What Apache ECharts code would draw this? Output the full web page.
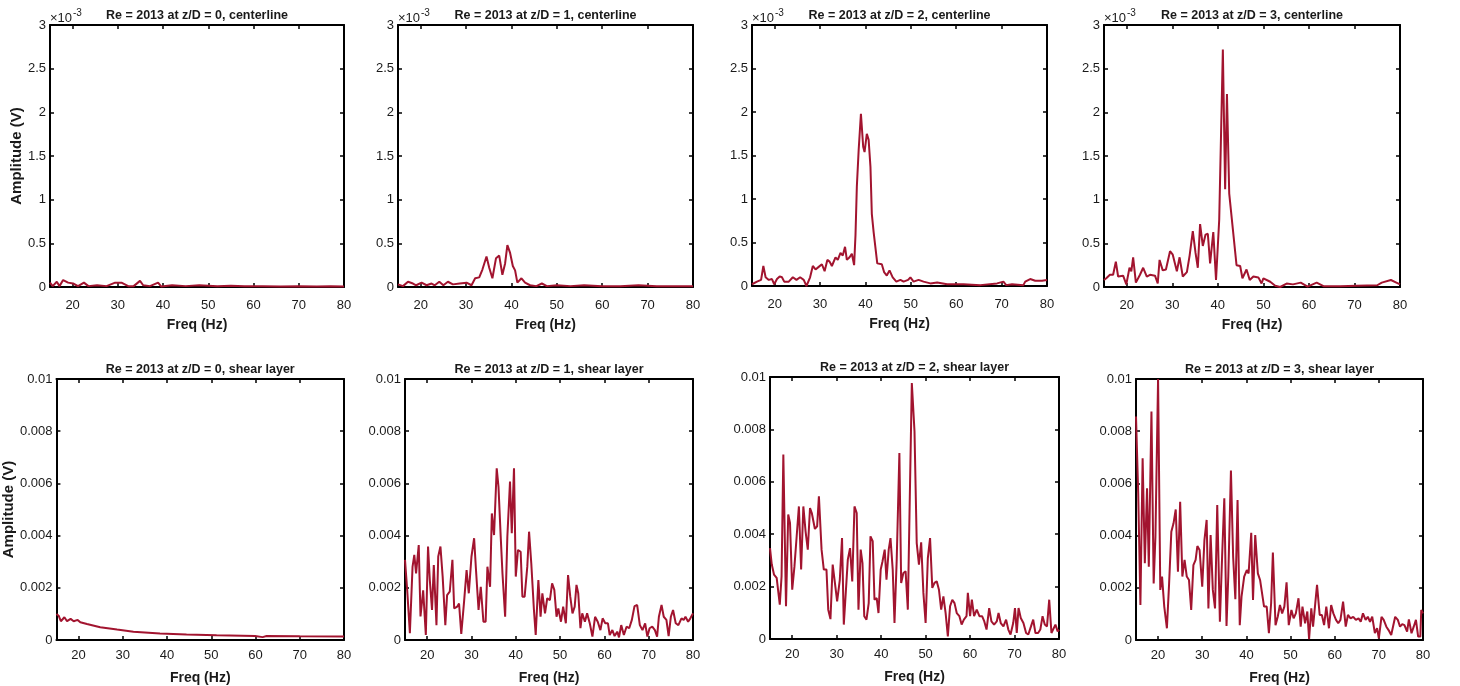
<!DOCTYPE html>
<html>
<head>
<meta charset="utf-8">
<script src="https://cdn.jsdelivr.net/npm/echarts@6/dist/echarts.min.js"></script>
<style>
  html, body { margin: 0; padding: 0; background: #fff; }
  #chart { width: 1460px; height: 686px; }
</style>
</head>
<body>
<div id="chart"></div>
<script>
// x ticks shared by every panel
var freqTicks = [20, 30, 40, 50, 60, 70, 80];
var topTicks = [0, 0.5, 1, 1.5, 2, 2.5, 3];      // x 1e-3 V
var bottomTicks = [0, 2, 4, 6, 8, 10];           // x 1e-3 V, shown in V

var titles = [
    'Re = 2013 at z/D = 0, centerline',
    'Re = 2013 at z/D = 1, centerline',
    'Re = 2013 at z/D = 2, centerline',
    'Re = 2013 at z/D = 3, centerline',
    'Re = 2013 at z/D = 0, shear layer',
    'Re = 2013 at z/D = 1, shear layer',
    'Re = 2013 at z/D = 2, shear layer',
    'Re = 2013 at z/D = 3, shear layer'
];

// [freq Hz, amplitude in 1e-3 V]
var clZ0 = [[15,0.05],[15.6,0.01],[16.5,0.06],[17.1,0.01],[17.9,0.08],[19,0.05],[20.1,0.04],[21.2,0.01],[22.5,0.05],[23.5,0.01],[25.4,0.02],[27.5,0.01],[29.4,0.05],[30.8,0.05],[32.3,0.01],[33.5,0.01],[34.9,0.07],[35.6,0.02],[37.1,0.01],[38.9,0.05],[39.6,0.005],[42,0.02],[45,0.01],[48,0.02],[52,0.01],[55,0.015],[58,0.01],[62,0.01],[66,0.005],[70,0.01],[74,0.005],[77,0.01],[80,0.005]];

var clZ1 = [[15,0.03],[16.1,0.01],[17.2,0.06],[18.3,0.04],[19,0.02],[20.2,0.05],[21.3,0.02],[22.4,0.04],[23.1,0.02],[24.1,0.06],[25,0.02],[26,0.06],[27.1,0.03],[28.6,0.04],[30.1,0.05],[31.2,0.02],[32,0.1],[32.9,0.11],[33.6,0.2],[34.5,0.35],[35.1,0.22],[35.8,0.1],[36.6,0.33],[37.3,0.36],[38,0.14],[38.6,0.27],[39.1,0.48],[39.7,0.39],[40.3,0.24],[40.8,0.19],[41.3,0.05],[42.2,0.1],[43,0.05],[44.1,0.02],[45.5,0.01],[46.7,0.04],[47.8,0.01],[50,0.02],[53,0.01],[56,0.02],[60,0.01],[64,0.01],[68,0.02],[72,0.01],[76,0.01],[80,0.01]];

var clZ2 = [[15,0.02],[16.1,0.05],[17,0.07],[17.5,0.23],[18,0.1],[18.7,0.07],[19.4,0.08],[19.9,0.02],[20.5,0.08],[21.1,0.11],[21.6,0.1],[22.1,0.05],[23.1,0.05],[24,0.1],[24.8,0.07],[25.6,0.1],[26.4,0.07],[27,0],[27.8,0.1],[28.4,0.23],[29,0.19],[29.7,0.22],[30.4,0.25],[31,0.17],[31.6,0.3],[32.1,0.28],[32.6,0.23],[33.4,0.33],[33.9,0.3],[34.5,0.38],[35,0.35],[35.5,0.45],[35.9,0.3],[36.5,0.33],[37,0.37],[37.5,0.24],[37.8,0.58],[38.1,1.14],[38.5,1.56],[39,1.98],[39.5,1.6],[39.8,1.54],[40.3,1.75],[40.7,1.68],[41.1,1.37],[41.4,0.83],[41.8,0.62],[42.2,0.6],[42.6,0.26],[43,0.24],[43.6,0.25],[44.1,0.16],[44.7,0.12],[45.3,0.18],[46,0.1],[46.8,0.05],[47.7,0.07],[48.4,0.05],[49.4,0.07],[49.9,0.1],[50.6,0.05],[51.7,0.07],[52.8,0.05],[54.3,0.03],[55.8,0.04],[58,0.02],[61.6,0.02],[65.3,0.01],[69,0.03],[70.4,0.05],[71,0.01],[72.3,0.02],[74.8,0.01],[75.2,0.05],[76.3,0.08],[77.4,0.06],[78.9,0.06],[80,0.07]];

var clZ3 = [[15,0.08],[15.5,0.1],[16.3,0.14],[17,0.14],[17.6,0.29],[18.1,0.12],[19.2,0.13],[19.9,0.03],[20.6,0.22],[21,0.18],[21.4,0.34],[22,0.05],[22.9,0.14],[23.6,0.22],[24.4,0.12],[25.1,0.14],[26.2,0.13],[26.8,0.04],[27.2,0.31],[27.9,0.19],[28.6,0.2],[29.5,0.41],[30.1,0.37],[31,0.18],[31.6,0.34],[32.3,0.12],[33.2,0.17],[33.8,0.36],[34.5,0.64],[35.1,0.39],[35.6,0.22],[36.1,0.72],[36.7,0.47],[37.3,0.6],[37.8,0.61],[38.3,0.27],[39,0.63],[39.6,0.08],[40.3,0.77],[41.1,2.72],[41.6,1.12],[42,2.21],[42.5,1.07],[43.3,0.66],[44.1,0.25],[44.9,0.24],[45.4,0.1],[46.3,0.2],[47,0.08],[47.8,0.12],[48.9,0.11],[49.6,0.04],[50,0.1],[51.5,0.06],[52.6,0.015],[53.7,0],[55.1,0.04],[56.5,0.03],[58.2,0.05],[59.7,0.005],[61.7,0.05],[63.2,0.01],[66.9,0.01],[70.5,0.015],[75,0.02],[76,0.05],[78,0.08],[79.2,0.05],[79.6,0.06],[80,0.03]];

var slZ0 = [[15,1.0],[15.5,0.93],[16,0.72],[16.8,0.87],[17.4,0.72],[18.2,0.81],[18.9,0.72],[19.8,0.77],[20.4,0.68],[21.9,0.61],[24.9,0.49],[28.7,0.4],[32.4,0.32],[38.4,0.25],[44.4,0.21],[51.2,0.18],[59.9,0.15],[61.6,0.11],[62.5,0.15],[70,0.14],[80,0.13]];

var slZ1 = [[15,3.07],[15.5,1.9],[16.1,0.26],[16.7,2.8],[17.1,3.26],[17.5,2.55],[18.1,3.64],[18.5,0.9],[19.1,1.9],[19.7,0.19],[20.2,3.58],[20.6,2.3],[21.1,1.15],[21.5,2.87],[22.1,0.57],[22.5,3.2],[23,3.58],[23.5,2.43],[24.1,0.57],[24.5,1.72],[25.1,1.85],[25.7,3.07],[26.1,1.21],[26.8,1.28],[27.2,1.4],[27.7,0.23],[28.3,1.4],[28.9,2.68],[29.4,1.79],[30,3.19],[30.6,3.9],[31,2.75],[31.6,1.15],[32.1,2.04],[32.7,0.7],[33.2,0.7],[33.6,2.81],[34.2,2.04],[34.6,4.85],[35.1,4.02],[35.7,6.58],[36.1,5.87],[36.6,3.96],[37,2.55],[37.6,0.89],[38.1,3.96],[38.7,6.07],[39.1,4.09],[39.6,6.58],[40,2.43],[40.5,3.45],[41.1,3.38],[41.5,1.66],[42,1.66],[42.6,2.81],[43,4.15],[43.5,2.94],[44.1,1.15],[44.5,0.19],[45.1,2.3],[45.6,0.89],[46,1.79],[46.6,1.02],[47.1,1.6],[47.7,1.53],[48.2,2.17],[48.7,1.92],[49.2,0.89],[49.6,1.21],[50.2,0.7],[50.7,1.28],[51.3,0.64],[51.8,2.49],[52.3,1.66],[52.8,1.02],[53.3,1.28],[53.7,2.11],[54.1,1.79],[54.6,0.45],[55,1.02],[55.6,0.7],[56.1,1.02],[56.7,0.64],[57.3,0.13],[57.9,0.89],[58.5,0.7],[59.1,0.38],[59.6,0.83],[60.2,0.64],[60.8,0.64],[61.2,0.19],[61.8,0.38],[62.3,0.15],[62.9,0.32],[63.3,0.1],[63.8,0.57],[64.4,0.19],[65,0.51],[65.6,0.45],[66.2,0.77],[66.8,1.3],[67.4,1.34],[68,0.57],[68.6,0.38],[69.2,0.64],[69.7,0.13],[70.2,0.45],[70.8,0.51],[71.4,0.38],[71.9,0.13],[72.3,0.89],[72.9,1.34],[73.4,0.89],[74,0.77],[74.5,0.15],[75,0.89],[75.5,1.15],[76.1,0.64],[76.7,0.57],[77.4,0.83],[77.9,0.77],[78.3,0.89],[78.9,0.7],[79.4,0.83],[80,1.02]];

var slZ2 = [[15,3.47],[15.4,2.84],[15.9,2.46],[16.5,2.33],[16.9,2.26],[17.2,1.31],[17.6,2.39],[18,7.04],[18.6,1.25],[19.1,4.75],[19.5,4.43],[20,1.88],[20.5,2.77],[21,3.92],[21.5,5.06],[22,2.65],[22.5,5.06],[23,4.11],[23.5,3.41],[24,5.0],[24.4,4.81],[25.1,4.2],[25.6,4.3],[26,5.45],[26.6,3.41],[27.1,2.65],[27.7,2.65],[28.1,1.12],[28.6,0.76],[29.1,2.84],[29.6,2.14],[30.1,1.44],[30.7,2.26],[31.2,3.85],[31.6,0.55],[32,0.61],[32.5,3.03],[33,3.47],[33.5,2.2],[34,5.06],[34.5,4.81],[34.9,1.12],[35.4,3.41],[35.8,2.9],[36.2,0.87],[36.7,0.74],[37.2,1.37],[37.6,3.92],[38.1,3.73],[38.5,1.5],[39,1.56],[39.4,0.99],[39.9,2.65],[40.3,2.96],[40.8,3.41],[41.2,2.26],[41.7,3.41],[42.1,3.85],[42.6,2.65],[43,0.61],[43.5,3.03],[44.1,7.1],[44.5,2.14],[45,2.52],[45.5,2.58],[46,1.12],[46.5,5.95],[46.9,9.77],[47.5,7.93],[48,3.66],[48.5,2.84],[49,3.69],[49.5,1.76],[50,0.61],[50.5,3.09],[51,3.85],[51.5,1.95],[52,2.14],[52.5,2.2],[53,1.88],[53.5,1.12],[54,1.63],[54.5,0.99],[55,0.1],[55.5,1.25],[56,1.5],[56.5,1.37],[57,0.99],[57.6,0.87],[58.1,0.55],[58.6,0.74],[59.2,0.87],[59.5,1.76],[60,0.87],[60.4,1.5],[60.9,0.87],[61.5,1.12],[62.1,0.87],[62.7,0.87],[63.2,0.67],[63.7,0.36],[64.3,1.18],[64.8,0.67],[65.4,0.55],[66,0.67],[66.4,0.99],[66.9,0.61],[67.5,0.48],[68.1,0.74],[68.6,0.36],[69.1,0.17],[69.7,0.61],[70.1,1.18],[70.5,0.23],[70.9,1.18],[71.4,0.8],[72,0.61],[72.6,0.23],[73.1,0.17],[73.7,0.48],[74.2,0.74],[74.7,0.23],[75.3,0.23],[75.8,0.36],[76.3,0.87],[76.8,0.55],[77.3,0.48],[77.8,1.5],[78.3,0.23],[78.7,0.17],[79.2,0.55],[79.7,0.29],[80,0.36]];

var slZ3 = [[15,8.56],[15.5,5.62],[16,1.34],[16.5,6.96],[17,2.94],[17.5,5.81],[17.9,2.81],[18.5,8.75],[19,2.17],[19.4,3.96],[20,10],[20.5,1.92],[20.9,2.43],[21.4,1.28],[22,0.45],[22.5,2.17],[23,4.15],[23.5,4.47],[24,5.0],[24.5,2.62],[25,5.3],[25.5,2.43],[26,3.07],[26.5,2.43],[27,2.3],[27.5,1.15],[28,2.87],[28.5,3.07],[28.9,3.6],[29.4,3.45],[30,2.04],[30.5,3.83],[31,4.6],[31.4,1.21],[31.9,4.02],[32.4,1.92],[32.9,1.21],[33.4,5.17],[34,0.7],[34.5,3.19],[35,5.43],[35.5,0.54],[35.9,2.43],[36.5,6.49],[37,3.19],[37.5,1.56],[38,5.36],[38.5,0.57],[38.9,1.66],[39.5,2.43],[40.1,2.68],[40.5,2.55],[41.1,4.11],[41.5,1.53],[42,4.02],[42.6,2.55],[43.1,2.3],[43.5,2.36],[44,1.28],[44.6,1.28],[45.1,0.26],[45.6,1.4],[46,3.35],[46.6,0.57],[47.1,0.89],[47.6,1.34],[48.1,1.02],[48.6,1.28],[49.1,2.21],[49.6,0.57],[50.2,1.15],[50.7,0.83],[51.2,1.02],[51.8,1.6],[52.3,0.51],[52.7,1.28],[53.3,0.64],[53.8,1.09],[54.2,0.03],[54.7,1.21],[55.1,0.51],[55.6,1.4],[56,2.11],[56.6,0.96],[57.1,0.96],[57.6,0.57],[58.1,1.28],[58.7,0.45],[59.2,1.34],[59.7,1.02],[60.3,0.77],[60.8,0.64],[61.3,0.77],[61.9,1.47],[62.5,0.51],[63,0.96],[63.6,0.83],[64.2,0.89],[64.8,0.77],[65.4,0.83],[65.9,0.7],[66.4,1.02],[67,0.77],[67.5,0.89],[68,0.7],[68.5,0.89],[69.1,0.26],[69.6,0.45],[70,0.06],[70.6,0.89],[71.1,0.77],[71.7,0.51],[72.2,0.38],[72.8,0.19],[73.2,0.26],[73.7,0.89],[74.3,0.77],[74.8,0.51],[75.3,0.61],[75.8,0.57],[76.4,0.32],[76.8,0.79],[77.4,0.26],[77.9,0.51],[78.4,0.77],[78.9,0.13],[79.4,0.13],[79.6,1.15],[80,1.02]];

var panelData = [clZ0, clZ1, clZ2, clZ3, slZ0, slZ1, slZ2, slZ3];

var boxes = [
    {left: 50,   top: 25,  width: 294, height: 262},
    {left: 398,  top: 25,  width: 295, height: 262},
    {left: 752,  top: 25,  width: 295, height: 261},
    {left: 1104, top: 25,  width: 296, height: 262},
    {left: 56,   top: 379, width: 288, height: 261},
    {left: 405,  top: 379, width: 288, height: 261},
    {left: 770,  top: 377, width: 289, height: 262},
    {left: 1136, top: 379, width: 287, height: 261}
];

var FONT = '"Liberation Sans", Arial, sans-serif';
var INK = '#1a1a1a';
var LINE = '#A2142F';

var dom = document.getElementById('chart');
var myChart = echarts.init(dom, null, {renderer: 'canvas'});

var grid = [], xAxis = [], yAxis = [], series = [], graphic = [];

var frameLine = {show: true, onZero: false, lineStyle: {color: '#000', width: 2}};
var tickIn = {show: true, inside: true, length: 4, lineStyle: {color: '#000', width: 1.5}};

for (var i = 0; i < 8; i++) {
    var b = boxes[i];
    var isTop = i < 4;
    grid.push({left: b.left, top: b.top, width: b.width, height: b.height, containLabel: false});

    // bottom x axis: labels + ticks
    xAxis.push({
        gridIndex: i, type: 'value', position: 'bottom', min: 15, max: 80,
        name: 'Freq (Hz)', nameLocation: 'middle', nameGap: 31,
        nameTextStyle: {fontFamily: FONT, fontWeight: 'bold', fontSize: 14, color: INK},
        axisLine: frameLine,
        axisTick: Object.assign({customValues: freqTicks}, tickIn),
        axisLabel: {customValues: freqTicks, margin: isTop ? 12 : 9, fontFamily: FONT, fontSize: 13, color: INK},
        splitLine: {show: false}
    });
    // top x axis: box edge, ticks, and the panel title
    xAxis.push({
        gridIndex: i, type: 'value', position: 'top', min: 15, max: 80,
        name: titles[i], nameLocation: 'middle', nameGap: 3,
        nameTextStyle: {fontFamily: FONT, fontWeight: 'bold', fontSize: 12.5, color: INK},
        axisLine: frameLine,
        axisTick: Object.assign({customValues: freqTicks}, tickIn),
        axisLabel: {show: false},
        splitLine: {show: false}
    });
    var yl = {
        gridIndex: i, type: 'value', position: 'left', min: 0, max: isTop ? 3 : 10,
        interval: isTop ? 0.5 : 2,
        axisLine: frameLine,
        axisTick: tickIn,
        axisLabel: {
            margin: 4, fontFamily: FONT, fontSize: 13, color: INK,
            formatter: isTop ? function (v) { return String(v); }
                             : function (v) { return String(+(v / 1000).toFixed(3)); }
        },
        splitLine: {show: false}
    };
    if (i === 0 || i === 4) {
        yl.name = 'Amplitude (V)';
        yl.nameLocation = 'middle';
        yl.nameGap = i === 0 ? 24 : 38;
        yl.nameTextStyle = {fontFamily: FONT, fontWeight: 'bold', fontSize: 15, color: INK};
    }
    yAxis.push(yl);
    yAxis.push({
        gridIndex: i, type: 'value', position: 'right', min: 0, max: isTop ? 3 : 10,
        interval: isTop ? 0.5 : 2,
        axisLine: frameLine,
        axisTick: tickIn,
        axisLabel: {show: false},
        splitLine: {show: false}
    });

    series.push({
        type: 'line', xAxisIndex: 2 * i, yAxisIndex: 2 * i,
        data: panelData[i], symbol: 'none', smooth: false,
        lineStyle: {color: LINE, width: 2}, clip: true, animation: false
    });

    if (isTop) {
        graphic.push({
            type: 'text', x: b.left, y: b.top - 7,
            style: {text: '\u00d710', font: '13px ' + FONT, fill: INK,
                    textAlign: 'left', textVerticalAlign: 'middle'}
        });
        graphic.push({
            type: 'text', x: b.left + 23, y: b.top - 12,
            style: {text: '-3', font: '10px ' + FONT, fill: INK,
                    textAlign: 'left', textVerticalAlign: 'middle'}
        });
    }
}

option = {
    backgroundColor: '#fff',
    animation: false,
    grid: grid,
    xAxis: xAxis,
    yAxis: yAxis,
    series: series,
    graphic: graphic
};

if (option && typeof option === "object") {
    myChart.setOption(option, true);
}
</script>
</body>
</html>
